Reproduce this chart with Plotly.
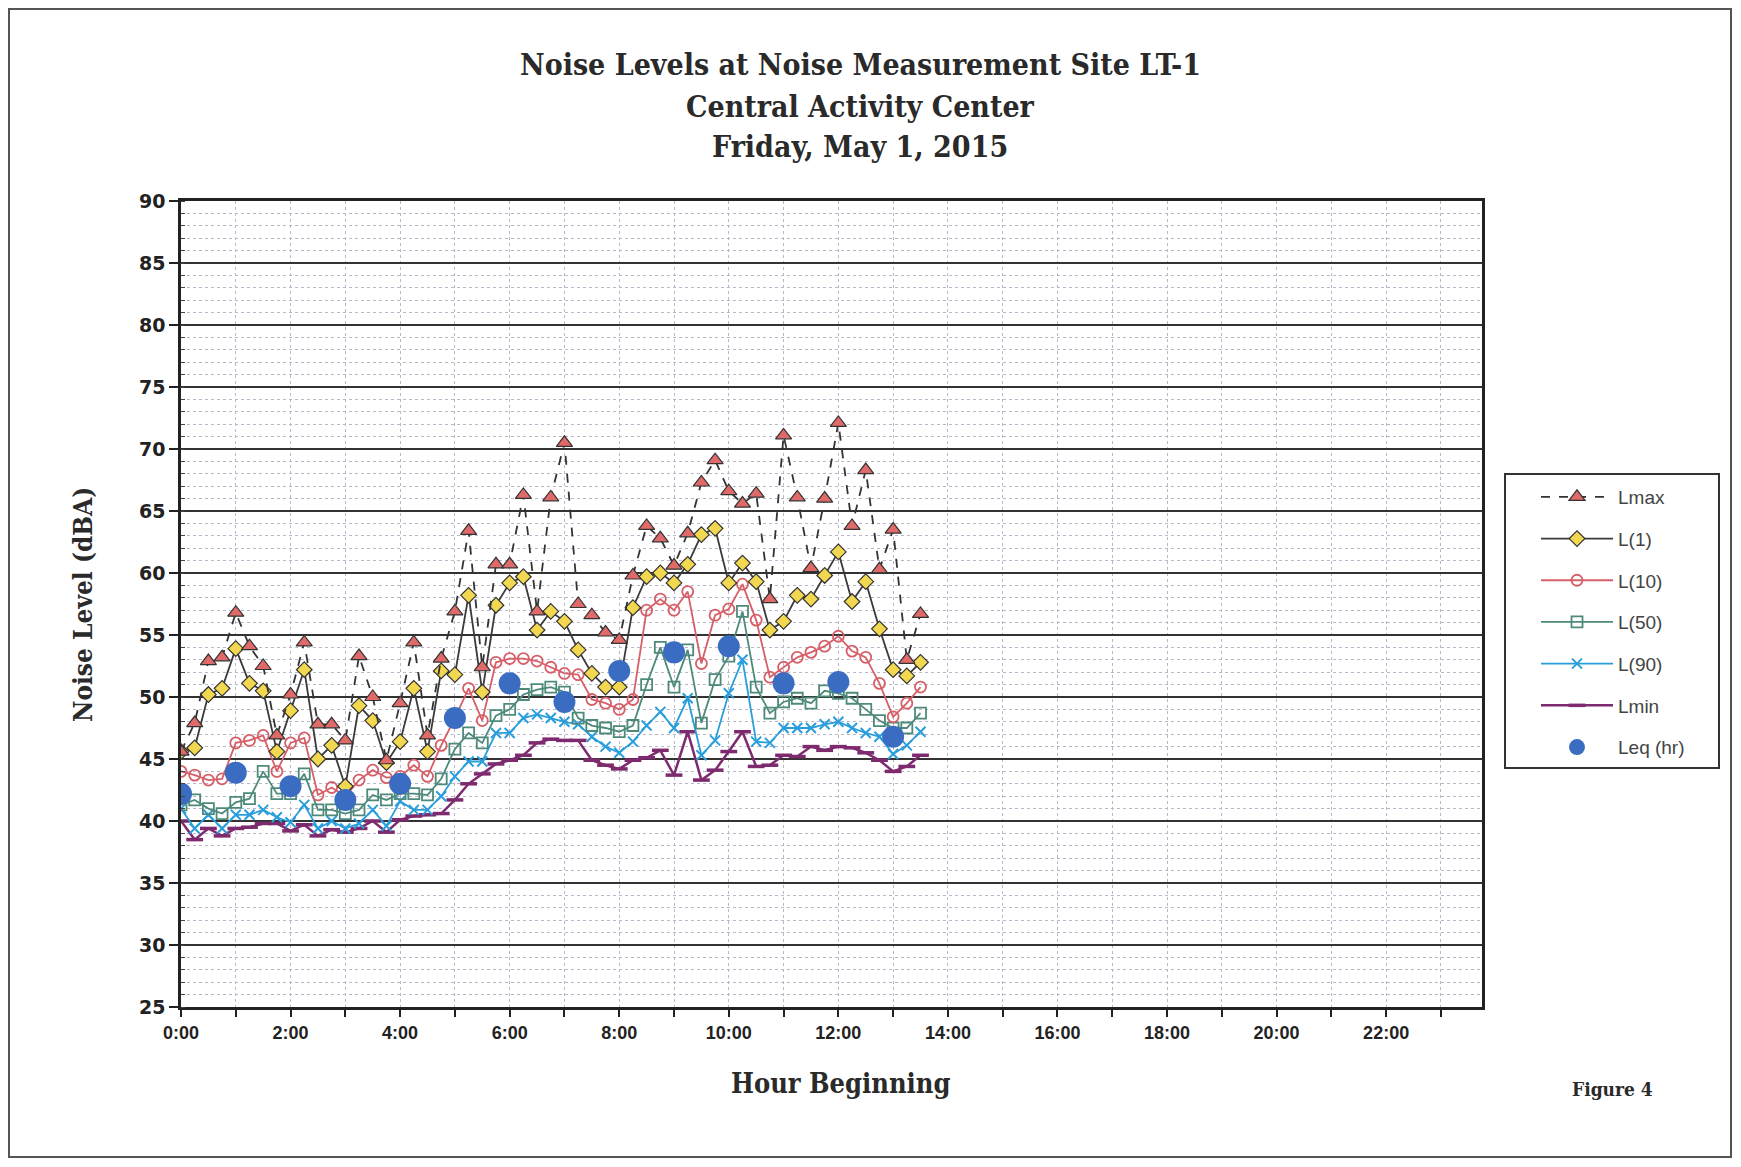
import plotly.graph_objects as go

# ---------------- data ----------------
times = ["0:00","0:15","0:30","0:45","1:00","1:15","1:30","1:45","2:00","2:15","2:30","2:45",
         "3:00","3:15","3:30","3:45","4:00","4:15","4:30","4:45","5:00","5:15","5:30","5:45",
         "6:00","6:15","6:30","6:45","7:00","7:15","7:30","7:45","8:00","8:15","8:30","8:45",
         "9:00","9:15","9:30","9:45","10:00","10:15","10:30","10:45","11:00","11:15","11:30","11:45",
         "12:00","12:15","12:30","12:45","13:00","13:15","13:30"]

lmax = [45.6,47.9,52.9,53.2,56.8,54.1,52.5,46.9,50.2,54.4,47.8,47.8,
        46.5,53.3,50.0,44.9,49.5,54.4,46.9,53.1,56.9,63.4,52.4,60.7,
        60.7,66.3,56.9,66.1,70.5,57.5,56.6,55.2,54.6,59.8,63.8,62.8,
        60.6,63.2,67.3,69.1,66.6,65.6,66.4,57.9,71.1,66.1,60.4,66.0,
        72.1,63.8,68.3,60.3,63.5,53.0,56.7]
l1 = [45.6,45.9,50.2,50.7,53.9,51.1,50.5,45.6,48.9,52.2,45.0,46.1,
      42.8,49.3,48.1,44.7,46.4,50.7,45.6,52.1,51.8,58.2,50.4,57.4,
      59.2,59.7,55.4,56.9,56.1,53.8,51.9,50.8,50.8,57.2,59.7,60.0,
      59.2,60.7,63.1,63.6,59.2,60.8,59.3,55.4,56.1,58.2,57.9,59.8,
      61.7,57.7,59.3,55.5,52.2,51.7,52.8]
l10 = [44.0,43.7,43.3,43.4,46.3,46.5,46.9,44.0,46.3,46.7,42.1,42.7,
       42.0,43.3,44.1,43.5,43.6,44.5,43.6,46.1,48.3,50.7,48.1,52.8,
       53.1,53.1,52.9,52.4,51.9,51.8,49.8,49.5,49.0,49.8,57.0,57.9,
       57.0,58.5,52.7,56.6,57.1,59.1,56.2,51.6,52.4,53.2,53.6,54.1,
       54.9,53.7,53.2,51.1,48.4,49.5,50.8]
l50 = [41.3,41.7,41.0,40.6,41.5,41.8,44.0,42.2,42.2,43.8,40.9,40.9,
       40.6,40.9,42.1,41.7,42.2,42.2,42.1,43.4,45.8,47.1,46.3,48.5,
       49.0,50.2,50.6,50.8,50.4,48.3,47.7,47.5,47.2,47.7,51.0,54.0,
       50.8,53.8,47.9,51.4,53.3,56.9,50.8,48.7,49.6,49.9,49.5,50.5,
       50.3,49.9,49.0,48.1,47.5,47.5,48.7]
l90 = [41.0,39.4,40.5,39.4,40.5,40.5,40.9,40.3,39.9,41.3,39.4,40.0,
       39.4,39.8,40.9,39.6,41.6,40.9,40.9,42.0,43.6,44.8,44.8,47.1,
       47.1,48.3,48.6,48.3,48.0,47.8,46.8,46.0,45.5,46.4,47.7,48.8,
       47.5,49.9,45.3,46.5,50.3,53.0,46.4,46.3,47.5,47.5,47.5,47.8,
       48.0,47.5,47.1,46.8,45.4,46.1,47.2]
lmin = [40.0,38.5,39.4,38.8,39.4,39.5,39.8,39.8,39.2,39.7,38.8,39.3,
        39.1,39.4,40.0,39.1,40.1,40.4,40.5,40.6,41.7,43.0,43.8,44.6,
        44.9,45.3,46.3,46.6,46.5,46.5,44.9,44.5,44.2,44.9,45.1,45.7,
        43.7,47.2,43.3,44.1,45.6,47.2,44.4,44.5,45.3,45.2,46.0,45.7,
        46.0,45.9,45.5,44.9,44.0,44.4,45.3]
leq_times = ["0:00","1:00","2:00","3:00","4:00","5:00","6:00","7:00","8:00","9:00",
             "10:00","11:00","12:00","13:00"]
leq = [42.2,43.9,42.8,41.7,43.0,48.3,51.1,49.6,52.1,53.6,54.1,51.1,51.2,46.8]

tick_hours = [0,2,4,6,8,10,12,14,16,18,20,22]
tick_labels = ["0:00","2:00","4:00","6:00","8:00","10:00","12:00","14:00","16:00","18:00","20:00","22:00"]


def to_hours(s):
    h, m = s.split(":")
    return int(h) + int(m) / 60.0


x = [to_hours(t) for t in times]
xq = [to_hours(t) for t in leq_times]

fig = go.Figure()

def add(name, y, color, dash, symbol, msize, mcolor, mline_color, mline_w, lw, rank, grp):
    fig.add_trace(go.Scatter(
        x=x, y=y, name=name, mode="lines+markers",
        line=dict(color=color, width=lw, dash=dash),
        marker=dict(symbol=symbol, size=msize, color=mcolor,
                    line=dict(color=mline_color, width=mline_w)),
        legendrank=rank, legendgroup=grp))

add("Lmin", lmin, "#7E2A6E", "solid", "line-ew-open", 12, "#7E2A6E", "#7E2A6E", 3.5, 2.5, 6, "g6")
add("L(90)", l90, "#2A9EDC", "solid", "x-thin-open", 10, "#2A9EDC", "#2A9EDC", 2, 1.8, 5, "g5")
add("L(50)", l50, "#4E8A7B", "solid", "square-open", 11, "#4E8A7B", "#4E8A7B", 1.8, 1.8, 4, "g4")
add("L(10)", l10, "#D65F68", "solid", "circle-open", 11, "#D65F68", "#D65F68", 1.8, 1.8, 3, "g3")
add("L(1)", l1, "#3A3A3A", "solid", "diamond", 12, "#F2D750", "#333333", 1.2, 1.8, 2, "g2")
add("Lmax", lmax, "#333333", "dash", "triangle-up", 14, "#E06A6A", "#333333", 1.2, 1.8, 1, "g1")

fig.add_trace(go.Scatter(
    x=xq, y=leq, name="Leq (hr)", mode="markers",
    marker=dict(symbol="circle", size=22, color="#3A6DC2"),
    legendrank=7, legendgroup="g7"))

# The page body adds an 8px margin; figure is sized so the plot area lands at
# page px l=181, r=1482, t=201, b=1007.
W, H = 1725, 1151
L, T = 173, 193
PW, PH = 1301, 806


def py(page_y):
    return (T + PH - (page_y - 8)) / PH


def px(page_x):
    return (page_x - 8 - L) / PW


fig.update_layout(
    width=W, height=H,
    margin=dict(l=L, r=W - L - PW, t=T, b=H - T - PH),
    paper_bgcolor="white", plot_bgcolor="white",
    showlegend=True,
    legend=dict(x=px(1536), y=py(478), xanchor="left", yanchor="top",
                borderwidth=0, bgcolor="rgba(0,0,0,0)",
                font=dict(family="Liberation Sans", size=19, color="#444444"),
                tracegroupgap=14, itemwidth=72, itemsizing="trace",
                traceorder="grouped"),
    font=dict(family="Liberation Sans", color="#222222"),
)

fig.update_xaxes(
    range=[0, 23.75], tickmode="array", tickvals=tick_hours, ticktext=tick_labels,
    tickfont=dict(family="Liberation Sans", size=18, color="#222222", weight="bold"),
    showline=True, linecolor="#222222", linewidth=3, mirror=True,
    ticks="outside", ticklen=7, tickwidth=2, tickcolor="#222222",
    showgrid=False, zeroline=False,
    minor=dict(dtick=1, tick0=0, ticks="outside", ticklen=7, tickwidth=2, tickcolor="#222222",
               showgrid=True, gridcolor="#B8B8C8", griddash="dot", gridwidth=1),
)
fig.update_yaxes(
    range=[25, 90], dtick=5, tick0=25,
    tickfont=dict(family="DejaVu Sans", size=19, color="#222222", weight="bold"),
    showline=True, linecolor="#222222", linewidth=2.5, mirror=True,
    ticks="outside", ticklen=9, tickwidth=2, tickcolor="#222222",
    showgrid=True, gridcolor="#333333", gridwidth=2, zeroline=False,
    minor=dict(dtick=1, ticks="inside", ticklen=4, tickwidth=1, tickcolor="#444444",
               showgrid=True, gridcolor="#B8B8C8", griddash="dot", gridwidth=1),
)

serif = "DejaVu Serif Condensed, DejaVu Serif"
title_font = dict(family=serif, size=30, color="#2A2A2A", weight="bold")
for txt, yy in [("Noise Levels at Noise Measurement Site LT-1", 65),
                ("Central Activity Center", 107),
                ("Friday, May 1, 2015", 147)]:
    fig.add_annotation(text=txt, xref="paper", yref="paper", x=px(860), y=py(yy),
                       xanchor="center", yanchor="middle", showarrow=False, font=title_font)

fig.add_annotation(text="Noise Level (dBA)", xref="paper", yref="paper", x=px(83), y=py(605),
                   textangle=-90, xanchor="center", yanchor="middle", showarrow=False,
                   font=dict(family=serif, size=26, color="#2A2A2A", weight="bold"))
fig.add_annotation(text="Hour Beginning", xref="paper", yref="paper", x=px(840), y=py(1083),
                   xanchor="center", yanchor="middle", showarrow=False,
                   font=dict(family=serif, size=27, color="#2A2A2A", weight="bold"))
fig.add_annotation(text="Figure 4", xref="paper", yref="paper", x=px(1612), y=py(1089),
                   xanchor="center", yanchor="middle", showarrow=False,
                   font=dict(family=serif, size=19, color="#2A2A2A", weight="bold"))

# legend frame
fig.add_shape(type="rect", xref="paper", yref="paper",
              x0=px(1505), x1=px(1719), y0=py(768), y1=py(474),
              line=dict(color="#333333", width=2), fillcolor="white", layer="below")

# outer frame
fig.add_shape(type="rect", xref="paper", yref="paper",
              x0=px(9), x1=px(1731), y0=py(1157), y1=py(9),
              line=dict(color="#555555", width=2), fillcolor="rgba(0,0,0,0)", layer="below")

fig.write_html("out.html")
